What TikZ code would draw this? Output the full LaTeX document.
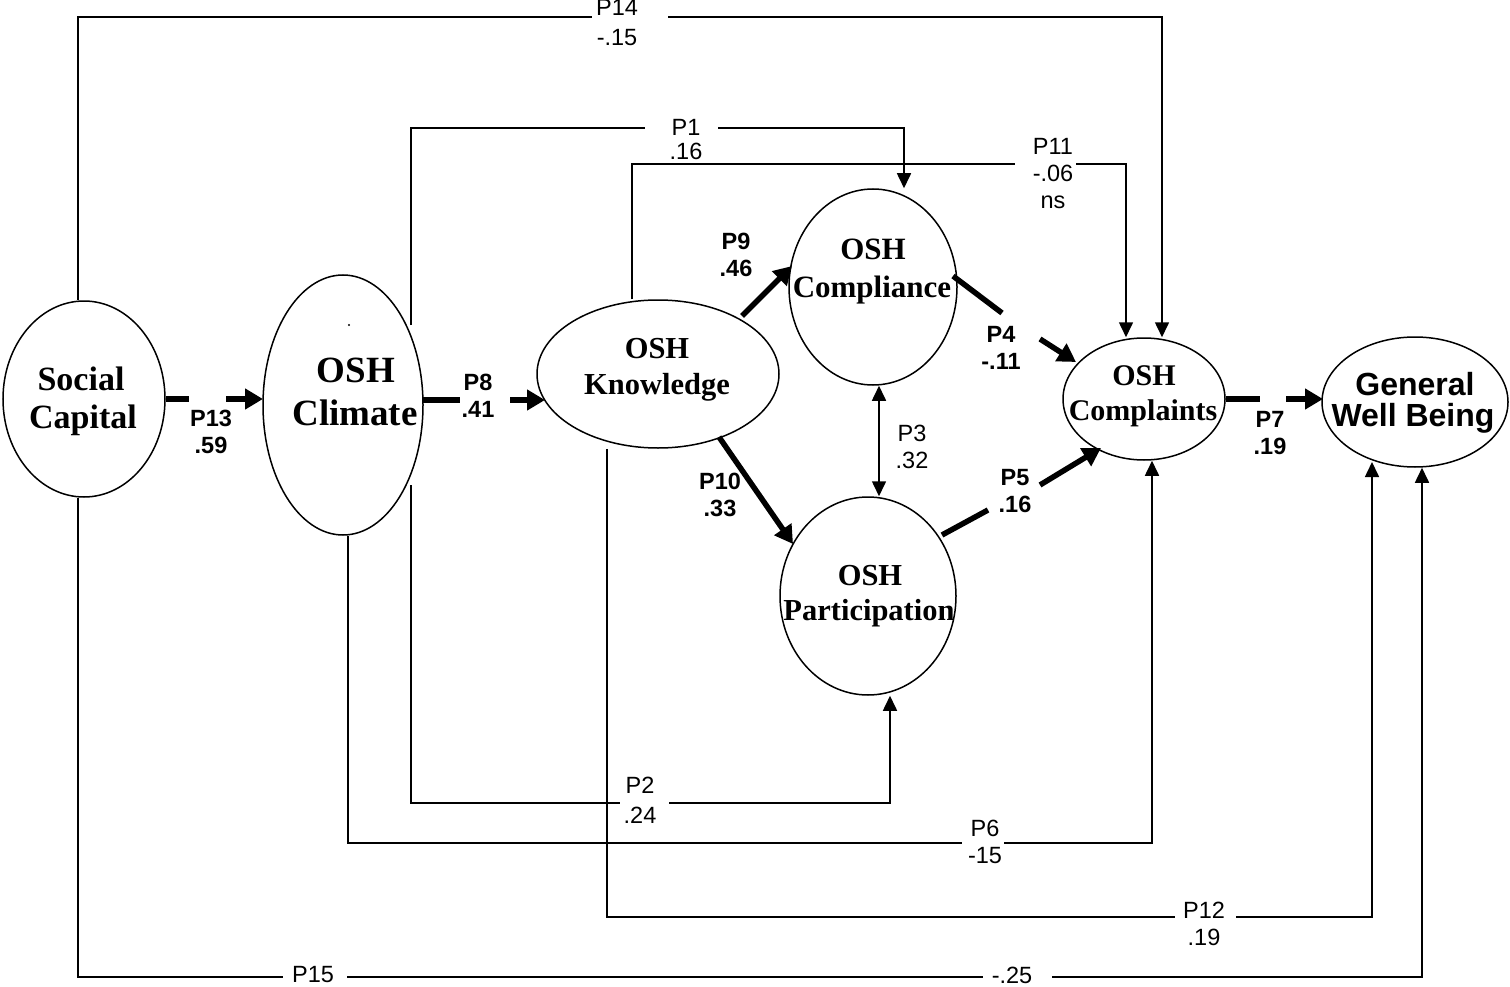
\documentclass[tikz,border=0pt]{standalone}
\usepackage{fontspec}
\setmainfont{Liberation Serif}
\newfontfamily\arialf{Liberation Sans}
\usetikzlibrary{arrows.meta,shapes.geometric}
\begin{document}
\begin{tikzpicture}[x=1pt,y=-1pt,
 ell/.style={draw, ellipse, line width=1.5pt, inner sep=0pt},
 thinl/.style={line width=1.6pt},
 thinarr/.style={line width=1.6pt, -{Triangle[length=15pt,width=14pt]}},
 dblarr/.style={line width=1.6pt, {Triangle[length=15pt,width=14pt]}-{Triangle[length=15pt,width=14pt]}},
 thickl/.style={line width=5.5pt},
 thickarr/.style={line width=5.5pt, -{Triangle[length=18pt,width=20pt]}},
 lbl/.style={font=\arialf\fontsize{23.5}{27}\selectfont, align=center, inner sep=0pt},
 blbl/.style={font=\arialf\bfseries\fontsize{23.5}{27}\selectfont, align=center, inner sep=0pt},
 ttl/.style={font=\bfseries\fontsize{#1}{#1}\selectfont, inner sep=0pt, anchor=base},
 sttl/.style={font=\arialf\bfseries\fontsize{#1}{#1}\selectfont, inner sep=0pt, anchor=base},
]
\useasboundingbox (0,0) rectangle (1510,987);

% ellipses
\node[ell, minimum width=162pt, minimum height=196pt] (sc) at (84,399) {};
\node[ell, minimum width=160pt, minimum height=260pt] (cl) at (343,405) {};
\node[ell, minimum width=242pt, minimum height=148pt] (kn) at (658,374) {};
\node[ell, minimum width=168pt, minimum height=196pt] (ca) at (873,287) {};
\node[ell, minimum width=176pt, minimum height=198pt] (pa) at (868,596) {};
\node[ell, minimum width=162pt, minimum height=122pt] (co) at (1144,399) {};
\node[ell, minimum width=186pt, minimum height=130pt] (gw) at (1415,402) {};

% ellipse texts
\node[ttl=34] (tsc1) at (81,390) {Social};
\node[ttl=34] (tsc2) at (83,428) {Capital};
\node[ttl=37] (tcl1) at (356,382) {OSH};
\node[ttl=37] (tcl2) at (355,425) {Climate};
\fill (349,325) circle (1.2pt);
\node[ttl=30.5] (tkn1) at (657,358) {OSH};
\node[ttl=30.5] (tkn2) at (657,394) {Knowledge};
\node[ttl=31] (tca1) at (873,259) {OSH};
\node[ttl=31] (tca2) at (872,297) {Compliance};
\node[ttl=30.5] (tpa1) at (870,585) {OSH};
\node[ttl=30.5] (tpa2) at (869,620) {Participation};
\node[ttl=30] (tco1) at (1144,385) {OSH};
\node[ttl=30] (tco2) at (1143,420) {Complaints};
\node[sttl=32] (tgw1) at (1415,395) {General};
\node[sttl=32] (tgw2) at (1413,426) {Well Being};

% thick paths
\coordinate (a13) at (189,399); \coordinate (b13) at (226,399); \coordinate (e13) at (263,399);
\draw[thickl] (sc.east) -- (a13);
\draw[thickarr] (b13) -- (e13);
\coordinate (s8) at (423,400); \coordinate (a8) at (460,400); \coordinate (b8) at (510,400); \coordinate (e8) at (545,400);
\draw[thickl] (s8) -- (a8);
\draw[thickarr] (b8) -- (e8);
\coordinate (s9) at (742,316); \coordinate (e9) at (792,266);
\draw[thickarr] (s9) -- (e9);
\coordinate (s10) at (719,437); \coordinate (e10) at (793,544);
\draw[thickarr] (s10) -- (e10);
\coordinate (s4) at (953,276); \coordinate (a4) at (1002,313); \coordinate (b4) at (1040,339); \coordinate (e4) at (1076,362);
\draw[thickl] (s4) -- (a4);
\draw[thickarr] (b4) -- (e4);
\coordinate (s5) at (942,535); \coordinate (a5) at (988,510); \coordinate (b5) at (1040,485); \coordinate (e5) at (1101,448);
\draw[thickl] (s5) -- (a5);
\draw[thickarr] (b5) -- (e5);
\coordinate (a7) at (1260,399); \coordinate (b7) at (1286,399); \coordinate (e7) at (1323,399);
\draw[thickl] (co.east) -- (a7);
\draw[thickarr] (b7) -- (e7);

% P3
\draw[dblarr] (ca.south -| 879,0) -- (pa.north -| 879,0);

% P14
\coordinate (k14a) at (78,17); \coordinate (k14b) at (592,17);
\coordinate (k14c) at (668,17); \coordinate (k14d) at (1162,17);
\draw[thinl] (sc.north -| k14a) -- (k14a) -- (k14b);
\draw[thinarr] (k14c) -- (k14d) -- (co.north -| k14d);
% P1
\coordinate (k1s) at (411,325); \coordinate (k1a) at (411,128); \coordinate (k1b) at (645,128);
\coordinate (k1c) at (718,128); \coordinate (k1d) at (904,128);
\draw[thinl] (k1s) -- (k1a) -- (k1b);
\draw[thinarr] (k1c) -- (k1d) -- (ca.north -| k1d);
% P11
\coordinate (k11a) at (632,164); \coordinate (k11b) at (1015,164);
\coordinate (k11c) at (1076,164); \coordinate (k11d) at (1126,164);
\draw[thinl] (kn.north -| k11a) -- (k11a) -- (k11b);
\draw[thinarr] (k11c) -- (k11d) -- (co.north -| k11d);
% P2
\coordinate (k2s) at (411,485); \coordinate (k2a) at (411,803); \coordinate (k2b) at (620,803);
\coordinate (k2c) at (669,803); \coordinate (k2d) at (890,803);
\draw[thinl] (k2s) -- (k2a) -- (k2b);
\draw[thinarr] (k2c) -- (k2d) -- (pa.south -| k2d);
% P6
\coordinate (k6a) at (348,843); \coordinate (k6b) at (962,843);
\coordinate (k6c) at (1004,843); \coordinate (k6d) at (1152,843);
\draw[thinl] (cl.south -| k6a) -- (k6a) -- (k6b);
\draw[thinarr] (k6c) -- (k6d) -- (co.south -| k6d);
% P12
\coordinate (k12a) at (607,917); \coordinate (k12b) at (1175,917);
\coordinate (k12c) at (1236,917); \coordinate (k12d) at (1372,917);
\coordinate (k12e) at (1372,462);
\draw[thinl] (kn.south -| k12a) -- (k12a) -- (k12b);
\draw[thinarr] (k12c) -- (k12d) -- (k12e);
% P15
\coordinate (k15a) at (78,977); \coordinate (k15b) at (283,977);
\coordinate (k15c) at (347,977); \coordinate (k15d) at (983,977);
\coordinate (k15e) at (1052,977); \coordinate (k15f) at (1422,977);
\draw[thinl] (sc.south -| k15a) -- (k15a) -- (k15b);
\draw[thinl] (k15c) -- (k15d);
\draw[thinarr] (k15e) -- (k15f) -- (gw.south -| k15f);

% labels
\node[blbl] (l13) at (211,432) {P13\\.59};
\node[blbl] (l8) at (478,396) {P8\\.41};
\node[blbl] (l9) at (736,255) {P9\\.46};
\node[blbl] (l10) at (720,495) {P10\\.33};
\node[blbl] (l4) at (1001,348) {P4\\-.11};
\node[blbl] (l5) at (1015,491) {P5\\.16};
\node[blbl] (l7) at (1270,433) {P7\\.19};
\node[lbl] (l3) at (912,447) {P3\\.32};
\node[lbl] (l14) at (617,23) {P14\\[3pt]-.15};
\node[lbl] (l1) at (686,140) {P1\\[-3pt].16};
\node[lbl] (l11) at (1053,174) {P11\\-.06\\ns};
\node[lbl] (l2) at (640,800) {P2\\[3pt].24};
\node[lbl] (l6) at (985,842) {P6\\-15};
\node[lbl] (l12) at (1204,924) {P12\\.19};
\node[lbl] (l15) at (313,975) {P15};
\node[lbl] (l25) at (1012,975) {-.25};
\end{tikzpicture}
\end{document}
